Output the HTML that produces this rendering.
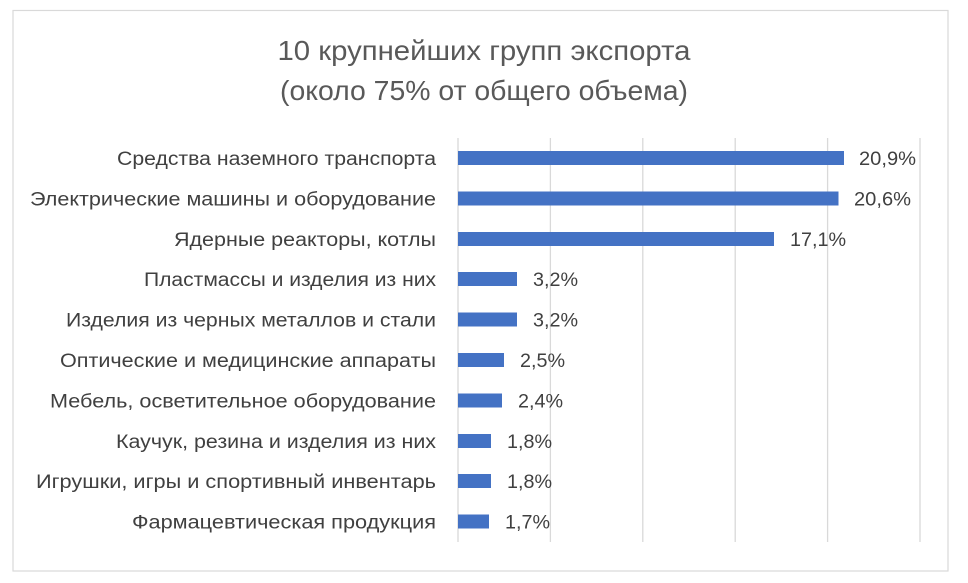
<!DOCTYPE html>
<html><head><meta charset="utf-8"><style>
html,body{margin:0;padding:0;background:#fff;}
svg{display:block;}
text{font-family:"Liberation Sans","DejaVu Sans",sans-serif;fill:#404040;}
</style></head><body>
<svg width="968" height="583" viewBox="0 0 968 583" xmlns="http://www.w3.org/2000/svg">
<rect x="0" y="0" width="968" height="583" fill="#fff"/>
<rect x="13" y="10.5" width="935" height="560.5" fill="#fff" stroke="#d9d9d9" stroke-width="1.2"/>
<text x="484" y="60" text-anchor="middle" font-size="28" style="fill:#595959" textLength="413" lengthAdjust="spacingAndGlyphs">10 крупнейших групп экспорта</text>
<text x="484" y="100" text-anchor="middle" font-size="28" style="fill:#595959" textLength="408" lengthAdjust="spacingAndGlyphs">(около 75% от общего объема)</text>
<g stroke="#d9d9d9" stroke-width="1.3">
<line x1="458" y1="138" x2="458" y2="542"/>
<line x1="550.4" y1="138" x2="550.4" y2="542"/>
<line x1="642.8" y1="138" x2="642.8" y2="542"/>
<line x1="735.2" y1="138" x2="735.2" y2="542"/>
<line x1="827.6" y1="138" x2="827.6" y2="542"/>
<line x1="920" y1="138" x2="920" y2="542"/>
</g>
<g fill="#4472c4">
<rect x="458" y="151" width="386" height="14"/>
<rect x="458" y="191.5" width="380.5" height="14"/>
<rect x="458" y="232" width="316" height="14"/>
<rect x="458" y="272" width="59" height="14"/>
<rect x="458" y="312.5" width="59" height="14"/>
<rect x="458" y="353" width="46" height="14"/>
<rect x="458" y="393.5" width="44" height="14"/>
<rect x="458" y="434" width="33" height="14"/>
<rect x="458" y="474" width="33" height="14"/>
<rect x="458" y="514.5" width="31" height="14"/>
</g>
<g font-size="19" text-anchor="end">
<text x="436" y="165" textLength="319" lengthAdjust="spacingAndGlyphs">Средства наземного транспорта</text>
<text x="436" y="205.5" textLength="406" lengthAdjust="spacingAndGlyphs">Электрические машины и оборудование</text>
<text x="436" y="246" textLength="262" lengthAdjust="spacingAndGlyphs">Ядерные реакторы, котлы</text>
<text x="436" y="286" textLength="292" lengthAdjust="spacingAndGlyphs">Пластмассы и изделия из них</text>
<text x="436" y="326.5" textLength="370" lengthAdjust="spacingAndGlyphs">Изделия из черных металлов и стали</text>
<text x="436" y="367" textLength="376" lengthAdjust="spacingAndGlyphs">Оптические и медицинские аппараты</text>
<text x="436" y="407.5" textLength="386" lengthAdjust="spacingAndGlyphs">Мебель, осветительное оборудование</text>
<text x="436" y="448" textLength="320" lengthAdjust="spacingAndGlyphs">Каучук, резина и изделия из них</text>
<text x="436" y="488" textLength="400" lengthAdjust="spacingAndGlyphs">Игрушки, игры и спортивный инвентарь</text>
<text x="436" y="528.5" textLength="304" lengthAdjust="spacingAndGlyphs">Фармацевтическая продукция</text>
</g>
<g font-size="19">
<text x="859" y="165" textLength="57" lengthAdjust="spacingAndGlyphs">20,9%</text>
<text x="854" y="205.5" textLength="57" lengthAdjust="spacingAndGlyphs">20,6%</text>
<text x="790" y="246" textLength="56" lengthAdjust="spacingAndGlyphs">17,1%</text>
<text x="533" y="286" textLength="45" lengthAdjust="spacingAndGlyphs">3,2%</text>
<text x="533" y="326.5" textLength="45" lengthAdjust="spacingAndGlyphs">3,2%</text>
<text x="520" y="367" textLength="45" lengthAdjust="spacingAndGlyphs">2,5%</text>
<text x="518" y="407.5" textLength="45" lengthAdjust="spacingAndGlyphs">2,4%</text>
<text x="507" y="448" textLength="45" lengthAdjust="spacingAndGlyphs">1,8%</text>
<text x="507" y="488" textLength="45" lengthAdjust="spacingAndGlyphs">1,8%</text>
<text x="505" y="528.5" textLength="45" lengthAdjust="spacingAndGlyphs">1,7%</text>
</g>
</svg>
</body></html>
